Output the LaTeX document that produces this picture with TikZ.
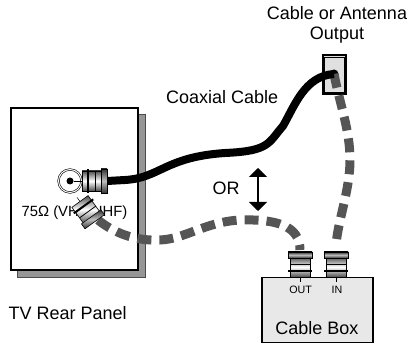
\documentclass[tikz,border=0pt]{standalone}
\usepackage{fontspec}
\setmainfont{Liberation Sans}
\usetikzlibrary{arrows.meta}
\definecolor{feedgray}{HTML}{555555}
\definecolor{shadowgray}{HTML}{969696}
\definecolor{boxgray}{HTML}{E8E8E8}
\tikzset{
	label18/.style={inner sep=0pt,font=\fontsize{18}{20}\selectfont},
	label15/.style={inner sep=0pt,font=\fontsize{14.8}{16}\selectfont},
	label11/.style={inner sep=0pt,font=\fontsize{10.7}{12}\selectfont},
	coax/.style={line width=8pt,black},
	feed/.style={line width=9pt,feedgray,dash pattern=on 14pt off 8pt},
	plug/.pic={
		\draw[line width=.5pt] (-5,0) -- (0,0);
		\shade[draw=black,line width=.6pt,top color=black!70,bottom color=black!70,middle color=white] (0,-10) rectangle (20,10);
		\shade[draw=black,line width=.6pt,top color=black!80,bottom color=black!80,middle color=black!25] (19,-12) rectangle (25,12);
		\fill (5,-12) rectangle (7,12);
		\draw[line width=.8pt] (13,-10) -- (13,10);
	}
}
\begin{document}
\begin{tikzpicture}[x=1pt,y=-1pt]
	\useasboundingbox (0,0) rectangle (409,344);
	\node[draw=black!70,fill=shadowgray,minimum width=128pt,minimum height=163pt,inner sep=0pt] at (81,195.5) (shadow) {};
	\node[draw=black,line width=1.2pt,fill=white,minimum width=127pt,minimum height=162pt,inner sep=0pt] at (74.5,189) (panel) {};
	\node[label18,anchor=west] at (8.5,313) (tvlabel) {TV Rear Panel};

	\node[circle,draw=black,double,double distance=1pt,line width=.6pt,fill=white,minimum size=23pt,inner sep=0pt] at (70,181) (jack) {};
	\node[circle,fill=black,minimum size=7pt,inner sep=0pt] at (70,181) (jackpin) {};
	\coordinate (tvplug) at (82,181);
	\draw[line width=.5pt] (jackpin) -- (tvplug);
	\node[label15] at (74.5,213) (ohms) {75Ω (VHF/UHF)};

	\node[label18] at (337,13) (source) {Cable or Antenna};
	\node[label18] at (337,35) (sourceb) {Output};
	\node[label18,anchor=west] at (166,97) (coaxlabel) {Coaxial Cable};
	\node[label18] at (226,188) (orlabel) {OR};
	\coordinate (ortop) at (258,168);
	\coordinate (orbot) at (258,211);
	\draw[{Triangle[width=18pt,length=9pt]}-{Triangle[width=18pt,length=9pt]},line width=1.3pt] (ortop) -- (orbot);

	\node[draw=black,line width=1.5pt,fill=boxgray,minimum width=111pt,minimum height=65pt,inner sep=0pt] at (317.5,310) (cablebox) {};
	\node[label18] at (317,328) (boxlabel) {Cable Box};
	\node[label11] at (300.7,290) (outlabel) {OUT};
	\node[label11] at (337,290) (inlabel) {IN};

	\node[draw=black,line width=1.4pt,fill=black!12,minimum width=23pt,minimum height=39pt,inner sep=0pt] at (334.5,74.5) (outlet) {};
	\draw[line width=.6pt] (324.5,57) rectangle (344.5,92);
	\node[circle,fill=black,minimum size=9pt,inner sep=0pt] at (334,74) (hole) {};

	\coordinate (boxout) at (300,250);
	\coordinate (boxin) at (336,245);
	\coordinate (tvout) at (107,181);
	\coordinate (angle) at (98,220);

	% gray run
	\draw[feed] (hole.center) .. controls (340,105) and (350,130) .. (350,160) .. controls (350,190) and (338,220) .. (boxin);
	\draw[feed] (angle) .. controls (118,236) and (140,241) .. (160,240) .. controls (185,239) and (205,222) .. (240,220) .. controls (275,219) and (300,225) .. (boxout);
	% black run
	\draw[coax] (tvout) -- (125,180) .. controls (160,178) and (165,157) .. (225,153) .. controls (270,151) and (268,143) .. (283,126) .. controls (295,105) and (305,76) .. (hole.center);

	\pic at (tvplug) {plug};
	\pic[rotate=-54] at (80,201.5) {plug};
	\pic[rotate=90] at (300,277) {plug};
	\pic[rotate=90] at (336,277) {plug};
\end{tikzpicture}
\end{document}
